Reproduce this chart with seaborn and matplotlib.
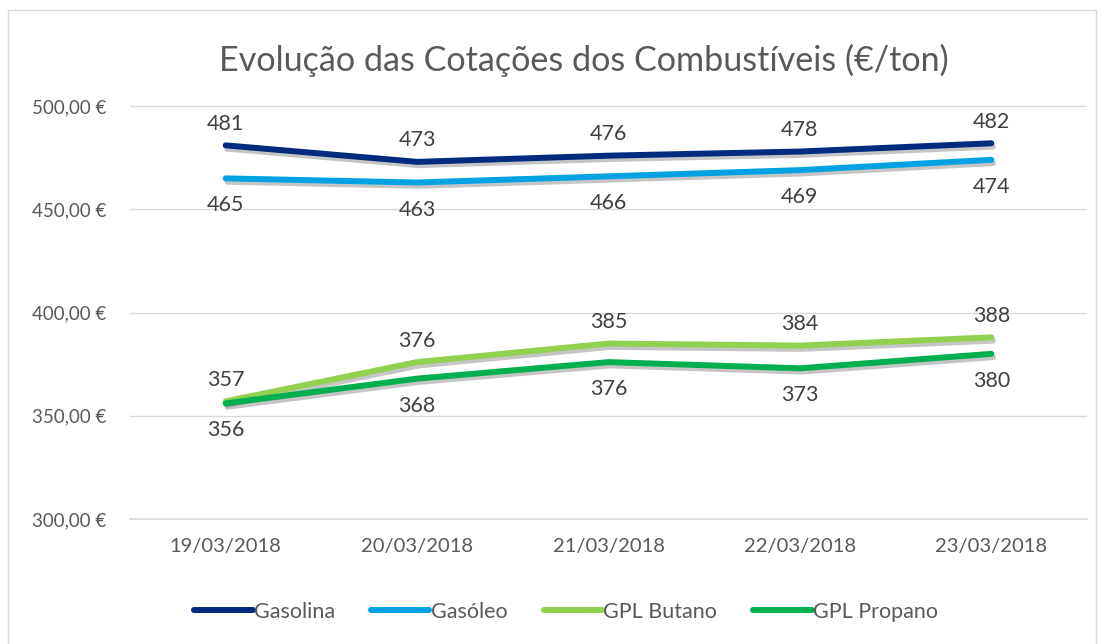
import matplotlib
matplotlib.use("Agg")
import matplotlib.pyplot as plt
import matplotlib.patheffects as pe
from matplotlib.lines import Line2D
from matplotlib.patches import Rectangle
import seaborn as sns
import pandas as pd

dates = ["19/03/2018", "20/03/2018", "21/03/2018", "22/03/2018", "23/03/2018"]
gasolina = [481, 473, 476, 478, 482]
gasoleo = [465, 463, 466, 469, 474]
butano = [357, 376, 385, 384, 388]
propano = [356, 368, 376, 373, 380]
series_names = ["Gasolina", "Gasóleo", "GPL Butano", "GPL Propano"]
series_values = [gasolina, gasoleo, butano, propano]
colors = ["#002B7F", "#00A2E1", "#92D050", "#00B050"]
label_side = [1, -1, 1, -1]  # above / below
yticks = [300, 350, 400, 450, 500]

sns.set_theme(style="white")
plt.rcParams['font.family'] = ['Lato', 'DejaVu Sans']

rows = []
for name, vals in zip(series_names, series_values):
    for i, (d, v) in enumerate(zip(dates, vals)):
        rows.append({"serie": name, "idx": i, "data": d, "valor": v})
df = pd.DataFrame(rows)

fig = plt.figure(figsize=(11.05, 6.44), dpi=100)
fig.patches.append(Rectangle((0.007, -0.01), 0.985, 0.995, transform=fig.transFigure,
                             fill=False, edgecolor="#D9D9D9", linewidth=1.0))
ax = fig.add_axes([130/1105, 1-519/644, (1087-130)/1105, (519-102)/644])

sns.lineplot(data=df, x="idx", y="valor", hue="serie", hue_order=series_names,
             palette=colors, linewidth=4.3, legend=False, ax=ax, sort=False)
for line in ax.get_lines():
    line.set_solid_capstyle("round")
    line.set_solid_joinstyle("round")
    line.set_path_effects([pe.SimpleLineShadow(offset=(1.2, -2.4), shadow_color="#6F6F6F", alpha=0.4),
                           pe.Normal()])

for name, vals, side in zip(series_names, series_values, label_side):
    for i, v in enumerate(vals):
        off = 15.5 if side > 0 else -19.5
        ax.annotate(str(v), (i, v), xytext=(0, off), textcoords="offset points",
                    ha="center", va="center", fontsize=15.5, color="#404040")

ax.set_xlim(-0.5, 4.5)
ax.set_ylim(300, 502)
ax.set_yticks(yticks)
ax.set_yticklabels([f"{t:.2f}".replace(".", ",") + " €" for t in yticks])
ax.set_xticks(range(len(dates)))
ax.set_xticklabels(dates)
ax.set_xticks([i - 0.5 for i in range(len(dates) + 1)], minor=True)
ax.tick_params(axis="x", which="major", length=0, pad=14, labelsize=14.5, labelcolor="#595959")
ax.tick_params(axis="x", which="minor", length=5, width=1.2, color="#D9D9D9", direction="out")
ax.tick_params(axis="y", length=0, pad=17, labelsize=13.5, labelcolor="#595959")
ax.grid(axis="y", color="#D9D9D9", linewidth=1.0)
ax.set_axisbelow(True)
for s in ["top", "right", "left"]:
    ax.spines[s].set_visible(False)
ax.spines["bottom"].set_color("#D9D9D9")
ax.spines["bottom"].set_linewidth(1.2)
ax.set_xlabel("")
ax.set_ylabel("")

fig.text(584/1105, 1-60/644, "Evolução das Cotações dos Combustíveis (€/ton)", ha="center", va="center",
         fontsize=24.6, color="#595959")

handles = [Line2D([0], [0], color=c, linewidth=4.3, solid_capstyle="round") for c in colors]
fig.legend(handles, series_names, loc="center", bbox_to_anchor=(566/1105, 1-612/644), ncol=4,
           frameon=False, fontsize=15.5, handlelength=2.7, handletextpad=0.05, columnspacing=1.7,
           labelcolor="#595959")

fig.savefig("out.png", dpi=100)
